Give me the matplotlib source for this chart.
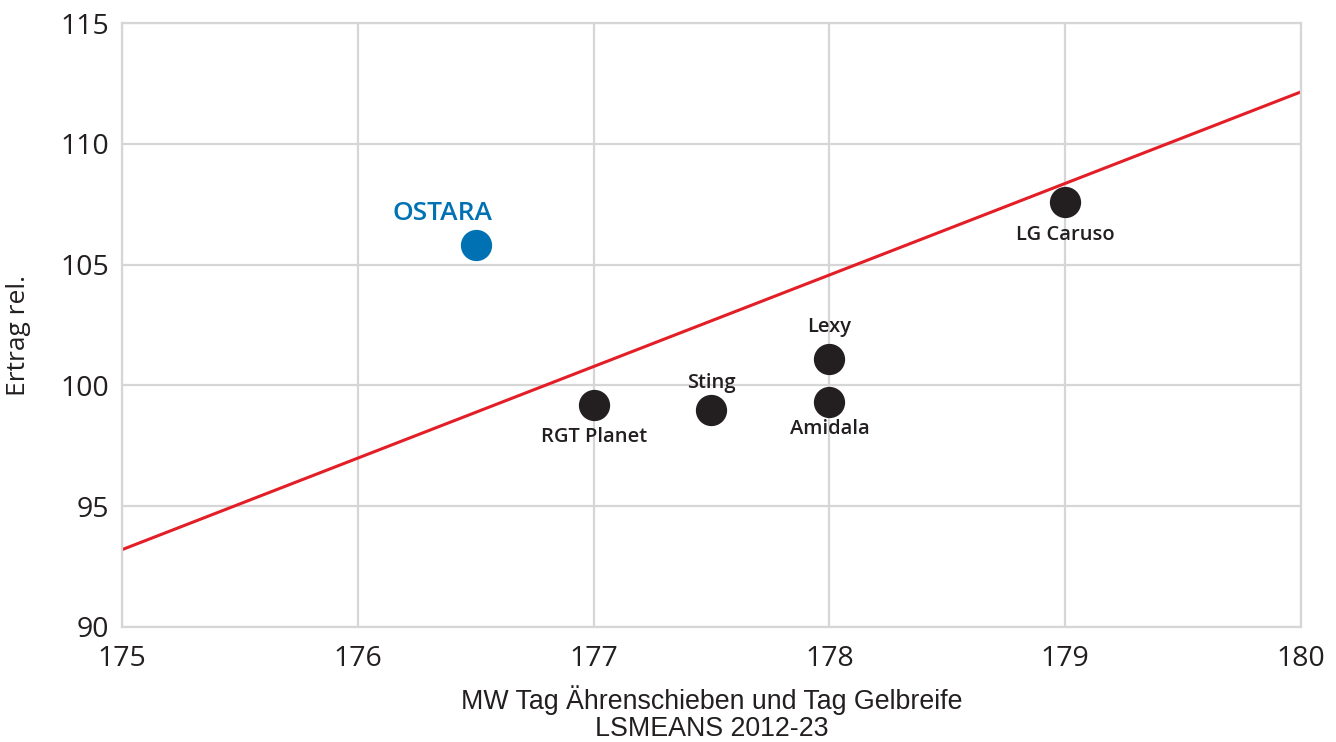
import numpy as np
import matplotlib.pyplot as plt

# Sorten: MW Tag Ährenschieben/Gelbreife vs. relativer Ertrag
sorten = ['OSTARA', 'RGT Planet', 'Sting', 'Lexy', 'Amidala', 'LG Caruso']
reife = [176.5, 177.0, 177.5, 178.0, 178.0, 179.0]
ertrag = [105.8, 99.2, 99.0, 101.1, 99.3, 107.6]
# label offset in points (dx, dy)
offsets = [(-24, 23), (0, -23), (0, 19), (0, 23), (0, -19), (0, -24)]

# Trendlinie
trend_x = [175, 180]
trend_y = [93.2, 112.15]

xticks = [175, 176, 177, 178, 179, 180]
yticks = [90, 95, 100, 105, 110, 115]

grid_col = '#d6d6d6'
dark = '#231f20'
blue = '#0071b3'

fig = plt.figure(figsize=(13.36, 7.42), dpi=100)
ax = fig.add_axes([0.0913, 0.155, 0.8825, 0.814])

ax.set_xlim(175, 180)
ax.set_ylim(90, 115)
ax.set_xticks(xticks)
ax.set_yticks(yticks)
ax.set_xticklabels([str(t) for t in xticks], fontfamily='Open Sans', fontsize=20.5, color=dark)
ax.set_yticklabels([str(t) for t in yticks], fontfamily='Open Sans', fontsize=20.5, color=dark)
ax.tick_params(length=0, pad=9)
ax.tick_params(axis='x', pad=13)
ax.grid(True, color=grid_col, linewidth=1.6)
ax.set_axisbelow(True)
for s in ax.spines.values():
    s.set_color(grid_col)
    s.set_linewidth(1.6)

ax.plot(trend_x, trend_y, color='#e41e26', linewidth=2.2, zorder=2)

for i, name in enumerate(sorten):
    col = blue if name == 'OSTARA' else dark
    ax.plot(reife[i], ertrag[i], 'o', markersize=21.5, color=col, zorder=3)
    big = name == 'OSTARA'
    ax.annotate(name, (reife[i], ertrag[i]), xytext=offsets[i], textcoords='offset points',
                ha='center', va='center', color=col, fontfamily='Open Sans',
                fontweight='semibold', fontsize=19 if big else 14.5)

ax.set_xlabel('MW Tag Ährenschieben und Tag Gelbreife\nLSMEANS 2012-23',
              fontfamily='Liberation Sans', fontsize=19.3, color=dark, labelpad=9,
              linespacing=1.05)
ax.set_ylabel('Ertrag rel.', fontfamily='Open Sans', fontsize=19, color=dark)
ax.yaxis.set_label_coords(-0.077, 0.483)

fig.savefig('out.png', dpi=100)
